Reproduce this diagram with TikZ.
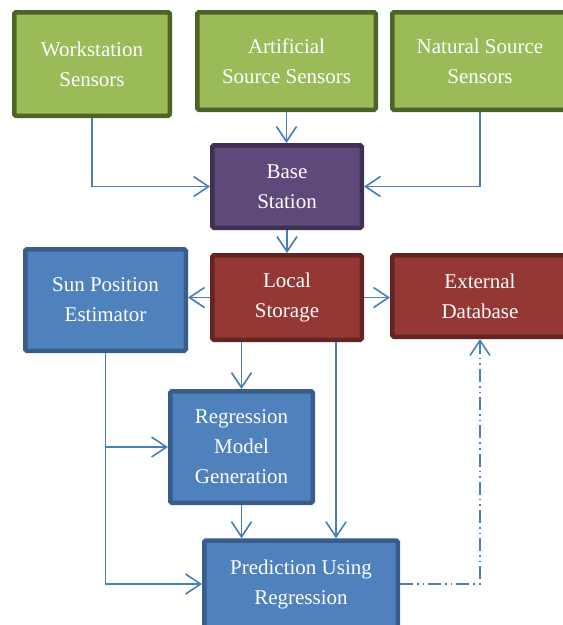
\documentclass[tikz,border=0pt]{standalone}
\usepackage{fontspec}
\setmainfont{Liberation Serif}
\usetikzlibrary{arrows.meta}
\definecolor{gfill}{HTML}{9BBB59}
\definecolor{gdraw}{HTML}{4F6228}
\definecolor{pfill}{HTML}{5F497A}
\definecolor{pdraw}{HTML}{3F3151}
\definecolor{rfill}{HTML}{953735}
\definecolor{rdraw}{HTML}{632523}
\definecolor{bfill}{HTML}{4F81BD}
\definecolor{bdraw}{HTML}{385D8A}
\definecolor{conn}{HTML}{4A7EBB}
\tikzset{
  box/.style={rectangle, rounded corners=1.5pt, line width=4.5pt, text=white,
    align=center, inner sep=0pt,
    font=\fontsize{21}{30}\selectfont},
  gbox/.style={box, fill=gfill, draw=gdraw},
  pbox/.style={box, fill=pfill, draw=pdraw},
  rbox/.style={box, fill=rfill, draw=rdraw},
  bbox/.style={box, fill=bfill, draw=bdraw},
  conn/.style={draw=conn, line width=1.6pt,
    -{Straight Barb[length=15pt,width=20pt,line width=1.6pt]}},
  dashdotdot/.style={dash pattern=on 13pt off 4pt on 1.6pt off 4pt on 1.6pt off 4pt}
}
\begin{document}
\begin{tikzpicture}[x=1pt,y=-1pt]
\useasboundingbox (0,0) rectangle (563,625);
\node[gbox, minimum width=155.5pt, minimum height=103.5pt] (ws) at (92,64) {Workstation\\Sensors};
\node[gbox, minimum width=178.5pt, minimum height=97.5pt] (art) at (286.5,61) {Artificial\\Source Sensors};
\node[gbox, minimum width=175.5pt, minimum height=97.5pt] (nat) at (480,61) {Natural Source\\Sensors};
\node[pbox, minimum width=149.5pt, minimum height=82.5pt] (base) at (287,186.5) {Base\\Station};
\node[bbox, minimum width=160.5pt, minimum height=101.5pt] (sun) at (105.5,300) {Sun Position\\Estimator};
\node[rbox, minimum width=149.5pt, minimum height=84.5pt] (loc) at (287,297.5) {Local\\Storage};
\node[rbox, minimum width=175.5pt, minimum height=81.5pt] (ext) at (480,296) {External\\Database};
\node[bbox, minimum width=142.5pt, minimum height=111.5pt] (reg) at (241.5,447) {Regression\\Model\\Generation};
\node[bbox, minimum width=193.5pt, minimum height=87pt] (pred) at (301,584) {Prediction Using\\Regression};

\draw[conn] (ws.south) |- (base.west);
\draw[conn] (art.south) -- (art.south |- base.north);
\draw[conn] (nat.south) |- (base.east);
\draw[conn] (base.south) -- (loc.north);
\draw[conn] (loc.west) -- (loc.west -| sun.east);
\draw[conn] (loc.east) -- (loc.east -| ext.west);
\draw[conn] (loc.south -| reg.north) -- (reg.north);
\coordinate (lp) at ([xshift=49pt]loc.south);
\draw[conn] (lp) -- (lp |- pred.north);
\draw[conn] (sun.south) |- (reg.west);
\draw[conn] (sun.south) |- (pred.west);
\draw[conn] (reg.south) -- (reg.south |- pred.north);
\draw[conn, dashdotdot] (pred.east) -| (ext.south);
\end{tikzpicture}
\end{document}
